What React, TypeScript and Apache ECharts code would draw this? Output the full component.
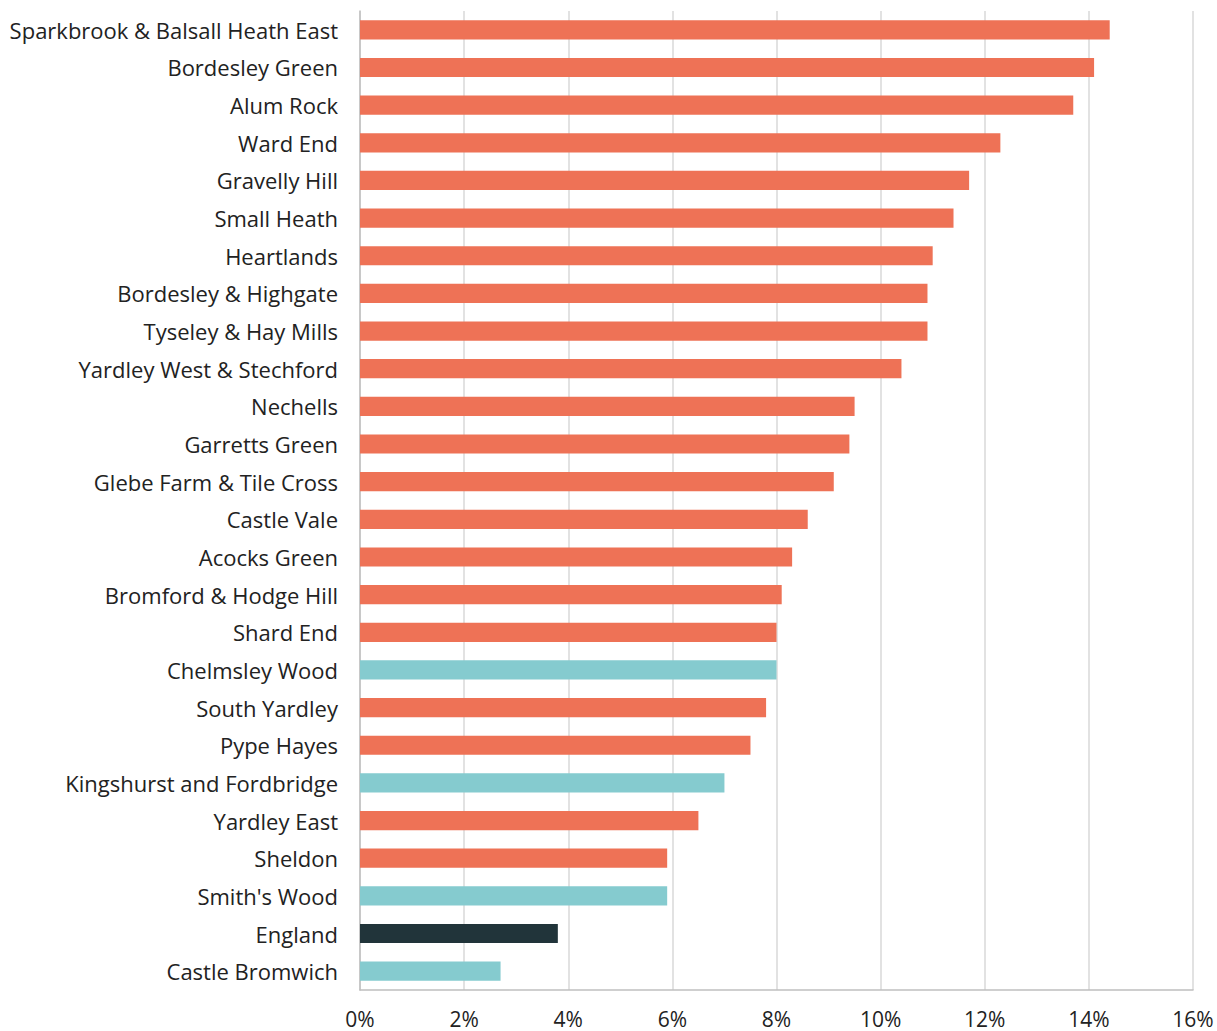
import React, { useEffect, useRef } from "react";
import * as echarts from "echarts";

const categories = [
  "Sparkbrook & Balsall Heath East",
  "Bordesley Green",
  "Alum Rock",
  "Ward End",
  "Gravelly Hill",
  "Small Heath",
  "Heartlands",
  "Bordesley & Highgate",
  "Tyseley & Hay Mills",
  "Yardley West & Stechford",
  "Nechells",
  "Garretts Green",
  "Glebe Farm & Tile Cross",
  "Castle Vale",
  "Acocks Green",
  "Bromford & Hodge Hill",
  "Shard End",
  "Chelmsley Wood",
  "South Yardley",
  "Pype Hayes",
  "Kingshurst and Fordbridge",
  "Yardley East",
  "Sheldon",
  "Smith's Wood",
  "England",
  "Castle Bromwich",
];

const values = [
  14.4, 14.1, 13.7, 12.3, 11.7, 11.4, 11.0, 10.9, 10.9, 10.4, 9.5, 9.4, 9.1,
  8.6, 8.3, 8.1, 8.0, 8.0, 7.8, 7.5, 7.0, 6.5, 5.9, 5.9, 3.8, 2.7,
];

// group: "b" = Birmingham ward, "s" = Solihull ward, "e" = England
const groups = [
  "b", "b", "b", "b", "b", "b", "b", "b", "b", "b", "b", "b", "b",
  "b", "b", "b", "b", "s", "b", "b", "s", "b", "b", "s", "e", "s",
];

const groupColors: Record<string, string> = {
  b: "#EE7256",
  s: "#85CBCF",
  e: "#21343A",
};

const xTicks = { min: 0, max: 16, interval: 2 };

export default function App() {
  const ref = useRef<HTMLDivElement>(null);
  useEffect(() => {
    if (!ref.current) return;
    const chart = echarts.init(ref.current, undefined, { renderer: "svg" });
    chart.setOption({
      animation: false,
      grid: { left: 360, right: 24, top: 11, bottom: 41, containLabel: false },
      xAxis: {
        type: "value",
        min: xTicks.min,
        max: xTicks.max,
        interval: xTicks.interval,
        axisLine: { show: true, lineStyle: { color: "#BFBFBF", width: 1.5 } },
        axisTick: { show: false },
        splitLine: { show: true, lineStyle: { color: "#D9D9D9", width: 1.5 } },
        axisLabel: {
          formatter: (v: number) => `${v}%`,
          fontFamily: "Open Sans",
          fontSize: 21,
          color: "#222",
          margin: 18,
        },
      },
      yAxis: {
        type: "category",
        inverse: true,
        data: categories,
        axisLine: { show: true, lineStyle: { color: "#BFBFBF", width: 1.5 } },
        axisTick: { show: false },
        axisLabel: {
          fontFamily: "Open Sans",
          fontSize: 22,
          color: "#222",
          margin: 22,
        },
      },
      series: [
        {
          type: "bar",
          barWidth: "51%",
          data: values.map((v, i) => ({
            value: v,
            itemStyle: { color: groupColors[groups[i]] },
          })),
        },
      ],
    });
    return () => chart.dispose();
  }, []);
  return (
    <div
      ref={ref}
      style={{ position: "absolute", left: 0, top: 0, width: 1217, height: 1031 }}
    />
  );
}
